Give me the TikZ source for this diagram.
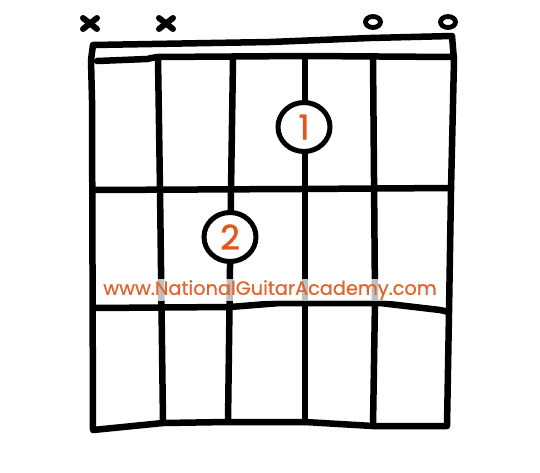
\documentclass[tikz,border=0pt]{standalone}
\usepackage{fontspec}
\setmainfont{Poppins}
\newfontfamily\digitfont{Poppins}[FakeBold=1.2]
\newfontfamily\urlfont{Poppins}[FakeBold=0.6]
\usetikzlibrary{shapes.geometric}
\definecolor{ngaorange}{HTML}{DD5A1C}
\definecolor{urlorange}{HTML}{E0652E}
\tikzset{
  pen/.style={line width=6.5pt, line cap=round, line join=round, black},
  fing/.style={ellipse, draw=black, line width=5pt, fill=white, minimum width=52pt, minimum height=49pt, inner sep=0pt, text=ngaorange, font=\digitfont\fontsize{34}{34}\selectfont},
  mute/.style={line width=6pt, line cap=round, black},
  openmark/.style={line width=4.8pt, black},
  url/.style={text=urlorange, font=\urlfont\fontsize{19.3}{22}\selectfont, fill=white, fill opacity=0.75, text opacity=1, inner sep=1pt}
}
\begin{document}
\begin{tikzpicture}[x=1pt,y=-1pt]
\useasboundingbox (0,0) rectangle (540,472);
\fill[white] (0,0) rectangle (540,472);
% strings
\draw[pen] (158,58) -- (160,190) -- (163,423);
\draw[pen] (233,60) -- (231,190) -- (228,422);
\draw[pen] (305,57) -- (305,300) -- (305,422);
\draw[pen] (373,56) -- (375,300) -- (373,426);
% frets
\draw[pen] (93,190) -- (300,189) -- (451,188);
\draw[pen] (94,308) -- (230,307) -- (280,303) -- (380,303) -- (440,310) -- (449,312);
% frame and nut
\draw[pen] (93,430) -- (92,100) -- (91,60) -- (93,45) -- (270,42) -- (370,38) -- (452,36) -- (454,60) -- (451,190) -- (449,312) -- (447,426) -- (373,426) -- (305,422) -- (228,422) -- (163,423) -- cycle;
\draw[pen] (97,61) -- (147,59) -- (157,57) -- (305,56) -- (454,57);
% mute / open marks
\draw[mute] (83,18) -- (97,29) (83,29) -- (97,18);
\draw[mute] (159,18) -- (173,29) (159,29) -- (173,18);
\draw[openmark] (373,22) ellipse [x radius=7.5, y radius=5.5];
\draw[openmark] (448,22) ellipse [x radius=7.5, y radius=5.5];
% fingers
\node[fing] (f1) at (304,127) {1};
\node[fing] (f2) at (230,237) {2};
% watermark
\node[url] (u) at (270,290) {www.NationalGuitarAcademy.com};
\end{tikzpicture}
\end{document}
